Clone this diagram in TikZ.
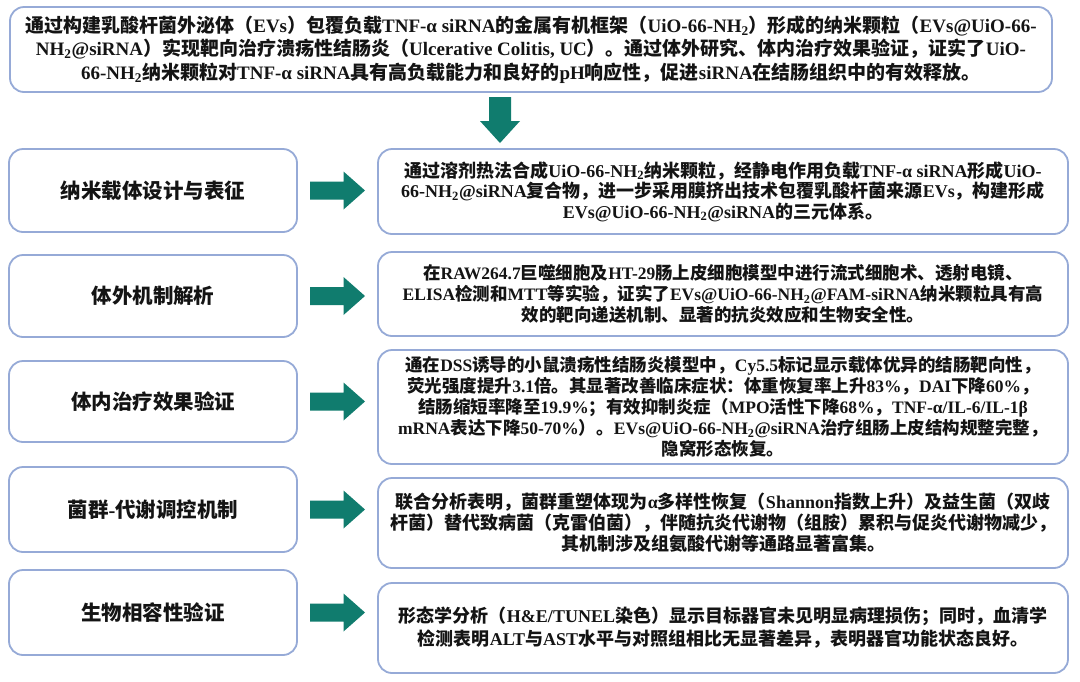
\documentclass[tikz,border=0pt]{standalone}
\usepackage{fontspec}
\setmainfont{Liberation Serif}
\newfontfamily\cjkfont{Noto Sans CJK SC}
\usetikzlibrary{calc}
\XeTeXinterchartokenstate=1
\chardef\cjkcls=7
\makeatletter
\count@="4E00
\loop\ifnum\count@<"A000 \XeTeXcharclass\count@=\cjkcls \advance\count@ 1 \repeat
\count@="3000
\loop\ifnum\count@<"3040 \XeTeXcharclass\count@=\cjkcls \advance\count@ 1 \repeat
\count@="FF00
\loop\ifnum\count@<"FFF0 \XeTeXcharclass\count@=\cjkcls \advance\count@ 1 \repeat
\makeatother
\XeTeXinterchartoks 0 \cjkcls = {\cjkfont}
\XeTeXinterchartoks 4095 \cjkcls = {\cjkfont}
\XeTeXinterchartoks \cjkcls 0 = {\rmfamily}
\XeTeXinterchartoks \cjkcls 4095 = {\rmfamily}
\definecolor{boxc}{RGB}{150,170,215}
\definecolor{tealc}{RGB}{16,124,110}
\definecolor{txt}{RGB}{20,20,20}
\newcommand\sub[1]{\textsubscript{#1}}
\begin{document}
\begin{tikzpicture}[x=1pt,y=-1pt,
  box/.style={draw=boxc, line width=1.8pt, rounded corners=14pt, inner sep=0pt, align=center, text=txt},
  lbox/.style={box, minimum width=288pt, font=\bfseries\fontsize{20.5}{24}\selectfont},
  rbox/.style={box, minimum width=690pt},
  blockarrow/.style={fill=tealc, draw=none}]
\useasboundingbox (0,0) rectangle (1080,681);
\fill[white] (0,0) rectangle (1080,681);

\node[box, minimum width=1042pt, minimum height=85pt, font=\bfseries\fontsize{19}{23.5}\selectfont] (top) at (531,49.5)
{通过构建乳酸杆菌外泌体（EVs）包覆负载TNF-α siRNA的金属有机框架（UiO-66-NH\sub{2}）形成的纳米颗粒（EVs@UiO-66-\\
NH\sub{2}@siRNA）实现靶向治疗溃疡性结肠炎（Ulcerative Colitis, UC）。通过体外研究、体内治疗效果验证，证实了UiO-\\
66-NH\sub{2}纳米颗粒对TNF-α siRNA具有高负载能力和良好的pH响应性，促进siRNA在结肠组织中的有效释放。};

\node[lbox, minimum height=83pt] (L1) at (153,190.5) {纳米载体设计与表征};
\node[lbox, minimum height=82pt] (L2) at (153,296) {体外机制解析};
\node[lbox, minimum height=81pt] (L3) at (153,401.5) {体内治疗效果验证};
\node[lbox, minimum height=85pt] (L4) at (153,509.5) {菌群-代谢调控机制};
\node[lbox, minimum height=85pt] (L5) at (153,612.5) {生物相容性验证};

\node[rbox, minimum height=85pt, font=\bfseries\fontsize{18}{20.5}\selectfont] (R1) at (723,191.5)
{通过溶剂热法合成UiO-66-NH\sub{2}纳米颗粒，经静电作用负载TNF-α siRNA形成UiO-\\
66-NH\sub{2}@siRNA复合物，进一步采用膜挤出技术包覆乳酸杆菌来源EVs，构建形成\\
EVs@UiO-66-NH\sub{2}@siRNA的三元体系。};

\node[rbox, minimum height=84pt, font=\bfseries\fontsize{17.5}{21}\selectfont] (R2) at (723,294)
{在RAW264.7巨噬细胞及HT-29肠上皮细胞模型中进行流式细胞术、透射电镜、\\
ELISA检测和MTT等实验，证实了EVs@UiO-66-NH\sub{2}@FAM-siRNA纳米颗粒具有高\\
效的靶向递送机制、显著的抗炎效应和生物安全性。};

\node[rbox, minimum height=114pt, font=\bfseries\fontsize{17.5}{21}\selectfont] (R3) at (723,407)
{通在DSS诱导的小鼠溃疡性结肠炎模型中，Cy5.5标记显示载体优异的结肠靶向性，\\
荧光强度提升3.1倍。其显著改善临床症状：体重恢复率上升83\%，DAI下降60\%，\\
结肠缩短率降至19.9\%；有效抑制炎症（MPO活性下降68\%，TNF-α/IL-6/IL-1β\\
mRNA表达下降50-70\%）。EVs@UiO-66-NH\sub{2}@siRNA治疗组肠上皮结构规整完整，\\
隐窝形态恢复。};

\node[rbox, minimum height=90pt, font=\bfseries\fontsize{18}{21}\selectfont] (R4) at (723,523)
{联合分析表明，菌群重塑体现为α多样性恢复（Shannon指数上升）及益生菌（双歧\\
杆菌）替代致病菌（克雷伯菌），伴随抗炎代谢物（组胺）累积与促炎代谢物减少，\\
其机制涉及组氨酸代谢等通路显著富集。};

\node[rbox, minimum height=90pt, font=\bfseries\fontsize{18}{23}\selectfont] (R5) at (723,628)
{形态学分析（H\&E/TUNEL染色）显示目标器官未见明显病理损伤；同时，血清学\\
检测表明ALT与AST水平与对照组相比无显著差异，表明器官功能状态良好。};

% down block arrow between the summary box and the first detail box
\coordinate (D) at (500,120);
\fill[blockarrow, shift={(D)}] (-11,-23) -- (11,-23) -- (11,1) -- (20,1) -- (0,23) -- (-20,1) -- (-11,1) -- cycle;

% right block arrows from each label box to its detail box
\foreach \i in {1,...,5}{
  \coordinate (A\i) at ($(L\i.east)!0.5!(L\i.east -| R\i.west)$);
  \fill[blockarrow, shift={(A\i)}] (-27.5,-9) -- (6,-9) -- (6,-19) -- (27.5,0) -- (6,19) -- (6,9) -- (-27.5,9) -- cycle;
}
\end{tikzpicture}
\end{document}
